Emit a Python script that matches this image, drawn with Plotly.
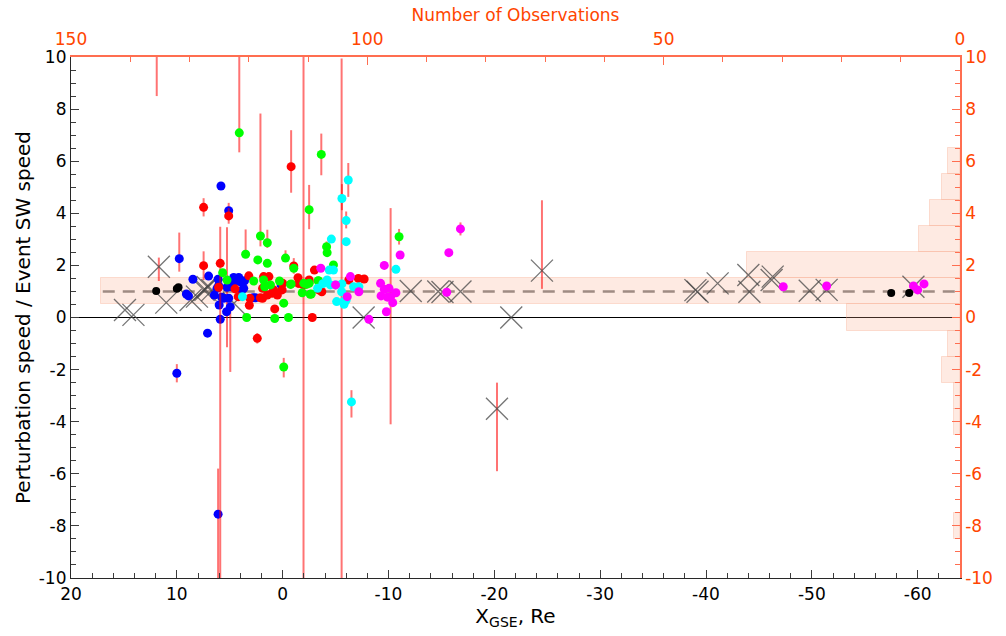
import plotly.graph_objects as go

# ---------------- data ----------------
# blue
blue_x = [5.83, 5.1, 9.77, 8.48, 9.1, 8.9, 7.0, 6.1, 6.46, 6.2, 5.77, 6.0, 5.9, 7.1, 5.26, 5.1, 4.95, 5.3,
          4.63, 4.15, 4.56, 4.0, 3.6, 3.68, 2.8, 2.57, 0.14, 10.0, 5.58, 6.05, 4.8, 3.9, 6.1]
blue_y = [5.05, 4.1, 2.26, 1.47, 0.9, 0.83, 1.59, 1.47, 0.86, 1.12, 0.78, 0.48, -0.07, -0.6, 1.16, 0.74, 0.41, 0.22,
          1.54, 1.54, 1.37, 1.37, 1.41, 1.12, 0.76, 0.76, 1.25, -2.14, 0.74, 1.22, 1.18, 1.03, -7.55]
blue_ep = [0, 0.3, 1.0, 0, 0, 0, 0, 0, 0, 0, 0, 0, 0, 0, 2.3, 0, 0, 0,
           0, 0, 0, 0, 0, 0, 0, 0, 0, 0.35, 0, 0, 0, 0, 1.75]
blue_em = [0, 0.3, 0.5, 0, 0, 0, 0, 0, 0, 0, 0, 0, 0, 0, 2.3, 0, 2.5, 0,
           0, 0, 0, 0, 0, 0, 0, 0, 0, 0.35, 0, 0, 0, 0, 3.0]

# red
red_x = [-0.8, 7.47, 5.1, 7.47, 5.9, 6.05, 3.2, 1.8, 3.1, 3.15, 2.4, 1.9, 1.9, 1.45, 0.75, 0.5, 0.85, -1.05,
         -1.45, -1.55, -2.5, -2.8, -3.0, -3.4, -3.7, -7.15, -6.25, -7.7, 1.3, 0.0, 0.05, 1.0, -1.5, -2.5,
         2.1, -1.97, 11.9, 4.5, 4.2]
red_y = [5.79, 4.23, 3.9, 1.99, 2.08, 1.16, 1.6, 1.57, 0.74, 0.47, -0.8, 0.74, 1.12, 0.86, 0.33, 0.86, 1.06, 1.98,
         1.53, 1.31, 1.44, 0.0, 1.82, 1.06, 0.99, 1.5, 1.44, 1.48, 1.57, 1.31, 1.06, 0.93, 1.31, 1.37,
         0.76, 1.25, 10.6, 1.1, 0.8]
red_ep = [1.4, 0.35, 0.3, 0.55, 1.4, 0, 0, 0, 0, 0, 0.2, 0, 0, 0, 0, 0, 0, 0.3,
          0, 0, 0, 0, 0, 0, 0, 0, 0, 0, 0, 0, 0, 0, 0, 0,
          0, 12.0, 0, 0, 0]
red_em = [1.0, 0.35, 0.3, 0.55, 13.0, 0, 0, 0, 0, 0, 0.2, 0, 0, 0, 0, 0, 0, 0.3,
          0, 0, 0, 0, 0, 0, 0, 0, 0, 0, 0, 0, 0, 0, 0, 0,
          0, 12.0, 2.1, 0, 0]

# green
green_x = [4.1, -3.65, -2.5, 2.1, 1.45, 3.5, 2.35, 1.45, -0.27, -1.05, 5.67, 5.26, 2.74, 1.8, 1.15, 0.3, -0.74,
           -1.85, -2.5, -3.4, -4.2, -4.15, -4.8, -2.6, -0.1, 3.4, 0.75, -0.55, -0.1, -11.0, -0.8, -2.0, -2.25,
           -2.7, -3.35, 1.7]
green_y = [7.09, 6.26, 4.14, 3.13, 2.87, 2.43, 2.21, 2.08, 2.28, 1.89, 1.72, 1.44, 1.40, 1.44, 1.25, 1.40, 1.27,
           0.95, 1.31, 1.40, 2.49, 2.72, 2.02, 0.89, 0.55, 0.0, -0.04, 0.0, -1.9, 3.1, 1.29, 1.31, 1.27,
           0.9, 1.41, 1.18]
green_ep = [3.5, 0.8, 0.95, 4.7, 0.5, 0.95, 0, 0, 0.3, 0, 0, 0, 0, 0, 0, 0, 0,
            0, 0, 0, 0, 0.2, 0, 0, 0, 0, 0, 0, 0.35, 0.3, 0, 0, 0,
            0, 0, 0]
green_em = [0.75, 0.8, 0.75, 0.4, 0.2, 0.1, 0, 0, 0.1, 0, 0, 0, 0, 0, 0, 0, 0,
            0, 0, 0, 0, 0.2, 0, 0, 0, 0, 0, 0, 0.4, 0.3, 0, 0, 0,
            0, 0, 0]

# cyan
cyan_x = [-6.2, -5.6, -6.0, -6.0, -10.7, -6.7, -7.2, -5.6, -5.75, -4.6, -4.4, -4.8, -4.2, -4.5, -5.0, -5.57,
          -5.1, -5.8, -6.0, -3.3, -6.5, 3.8, -3.8]
cyan_y = [5.28, 4.57, 3.72, 2.91, 1.85, 1.18, 1.18, 1.29, 0.61, 3.01, 1.82, 1.82, 1.44, 1.25, 1.25, 0.99,
          0.61, 0.51, 0.67, 1.12, -3.24, 0.8, 1.3]
cyan_ep = [0.65, 0.55, 0.35, 0.15, 0, 0, 0, 0, 0, 0.1, 0, 0, 0, 0, 0, 8.95,
           0, 0, 0, 0, 0.45, 0, 0]
cyan_em = [0.65, 0.45, 0.3, 0.15, 0, 0, 0, 0, 0, 0.1, 0, 0, 0, 0, 0, 11.0,
           0, 0, 0, 0, 0.6, 0, 0]

# magenta
mag_x = [-47.3, -51.4, -59.6, -60.0, -60.6, -16.8, -15.7, -15.5, -11.1, -9.6, -8.15, -9.25, -9.6, -9.3, -9.9,
         -10.2, -10.4, -9.8, -10.05, -10.7, -6.1, -6.4, -7.2, -3.6, -5.0]
mag_y = [1.18, 1.21, 1.21, 1.06, 1.29, 3.4, 2.49, 0.97, 2.4, 2.0, -0.07, 1.31, 1.08, 0.83, 0.78,
         0.8, 0.57, 0.22, 1.12, 0.95, 0.8, 1.57, 0.99, 1.89, 1.25]
mag_ep = [0, 0, 0, 0, 0, 0.25, 0.1, 0, 0, 0, 0, 0, 0, 0, 0,
          3.4, 0, 0, 0, 0, 0, 0, 0, 0, 0]
mag_em = [0, 0, 0, 0, 0, 0.25, 0.1, 0, 0, 0, 0, 0, 0, 0, 0,
          4.9, 0, 0, 0, 0, 0, 0, 0, 0, 0]

# black
black_x = [11.95, 9.84, 10.0, -57.5, -59.2]
black_y = [1.02, 1.16, 1.1, 0.94, 0.94]

# cross markers
cross_x = [14.9, 14.1, 11.7, 11.0, 8.7, 8.1, 7.3, 7.47, 7.1, 6.65, 4.6, -7.65, -12.1, -14.7, -15.1, -16.8,
           -20.25, -21.6, -24.5, -39.2, -39.0, -41.1, -44.0, -44.1, -46.3, -46.2, -49.8, -51.4, -59.6]
cross_y = [0.29, 0.1, 1.95, 0.57, 0.67, 0.8, 1.06, 1.06, 1.17, 1.05, 0.55, 0.0, 1.02, 1.0, 0.98, 1.0,
           -3.5, 0.0, 1.8, 0.99, 1.05, 1.31, 1.63, 0.99, 1.57, 1.44, 1.03, 1.06, 1.18]
cross_ep = [0, 0, 0.35, 0, 0, 0, 0, 0, 0, 0, 0, 0, 0, 0, 0, 0,
            1.0, 0, 2.7, 0, 0, 0, 0, 0, 0, 0, 0, 0, 0]
cross_em = [0, 0, 0.55, 0, 0, 0, 0, 0, 0, 0, 0, 0, 0, 0, 0, 0,
            2.4, 0, 0.7, 0, 0, 0, 0, 0, 0, 0, 0, 0, 0]

# histogram of ratio (number of observations per unit bin)
hist_centers = [6, 5, 4, 3, 2, 1, 0, -1, -2, -3, -4, -8]
hist_counts = [2, 3, 5, 7, 36, 145, 19, 2, 3, 1, 1, 1]

# tick labels
x_ticks = [20, 10, 0, -10, -20, -30, -40, -50, -60]
x_ticktext = ["20", "10", "0", "-10", "-20", "-30", "-40", "-50", "-60"]
y_ticks = [-10, -8, -6, -4, -2, 0, 2, 4, 6, 8, 10]
y_ticktext = ["-10", "-8", "-6", "-4", "-2", "0", "2", "4", "6", "8", "10"]
n_ticks = [150, 100, 50, 0]

# ---------------- figure ----------------
ORANGE = "rgb(255,69,0)"
ORANGE_LINE = "rgb(255,110,80)"
ERR = "rgba(255,0,0,0.55)"
FONT = "DejaVu Sans, Liberation Sans, sans-serif"

fig = go.Figure()

fig.add_trace(go.Bar(
    x=hist_counts, y=hist_centers, orientation="h", width=1.0,
    xaxis="x", yaxis="y",
    marker=dict(color="rgba(250,170,140,0.25)", line=dict(color="rgba(250,170,140,0.35)", width=1)),
    showlegend=False, hoverinfo="skip"))


def dots(x, y, color, ep=None, em=None, size=9):
    kw = {}
    if ep is not None:
        kw["error_y"] = dict(type="data", symmetric=False, array=ep, arrayminus=em,
                             color=ERR, thickness=2, width=0)
    return go.Scatter(x=x, y=y, mode="markers", xaxis="x2", yaxis="y",
                      marker=dict(color=color, size=size, line=dict(width=0)),
                      showlegend=False, **kw)


fig.add_trace(go.Scatter(
    x=cross_x, y=cross_y, mode="markers", xaxis="x2", yaxis="y",
    marker=dict(symbol="x-thin-open", size=22, color="rgba(70,70,70,0.75)",
                line=dict(width=1.3, color="rgba(70,70,70,0.75)")),
    error_y=dict(type="data", symmetric=False, array=cross_ep, arrayminus=cross_em,
                 color=ERR, thickness=2, width=0),
    showlegend=False))
fig.add_trace(dots(blue_x, blue_y, "rgb(0,0,255)", blue_ep, blue_em))
fig.add_trace(dots(red_x, red_y, "rgb(255,0,0)", red_ep, red_em))
fig.add_trace(dots(green_x, green_y, "rgb(0,255,0)", green_ep, green_em))
fig.add_trace(dots(cyan_x, cyan_y, "rgb(0,255,255)", cyan_ep, cyan_em))
fig.add_trace(dots(mag_x, mag_y, "rgb(255,0,255)", mag_ep, mag_em))
fig.add_trace(dots(black_x, black_y, "black", size=8))

# dummy trace to activate the right axis
fig.add_trace(go.Scatter(x=[0], y=[0], xaxis="x2", yaxis="y2", mode="markers",
                         marker=dict(opacity=0), showlegend=False, hoverinfo="skip"))

fig.add_shape(type="line", xref="paper", yref="y", x0=0, x1=1, y0=0, y1=0,
              line=dict(color="black", width=1.2), layer="below")
fig.add_shape(type="line", xref="x2", yref="y", x0=17, x1=-64, y0=1, y1=1,
              line=dict(color="rgb(128,128,128)", width=2.5, dash="12px,8px"), layer="below")

common = dict(ticks="inside", showgrid=False, zeroline=False, showline=True,
              tickfont=dict(family=FONT, size=17))

fig.update_layout(
    width=1006, height=636,
    margin=dict(l=71, r=46, t=57, b=58),
    paper_bgcolor="white", plot_bgcolor="white",
    font=dict(family=FONT, size=17, color="black"),
    xaxis=dict(range=[150, 0], side="top", anchor="y", tickvals=n_ticks,
               ticklen=8, tickcolor=ORANGE_LINE, linecolor=ORANGE_LINE, linewidth=1.5,
               ticklabelstandoff=3,
               tickfont=dict(family=FONT, size=17, color=ORANGE),
               minor=dict(dtick=10, ticklen=5, tickcolor=ORANGE_LINE, ticks="inside"),
               title=dict(text="Number of Observations", font=dict(family=FONT, size=17, color=ORANGE), standoff=4),
               ticks="inside", showgrid=False, zeroline=False, showline=True),
    xaxis2=dict(range=[20, -64], overlaying="x", side="bottom", anchor="y",
                tickvals=x_ticks, ticktext=x_ticktext, ticklen=8, tickcolor="rgb(60,60,60)",
                linecolor="rgb(40,40,40)", linewidth=1.2,
                minor=dict(dtick=2, tick0=0, ticklen=5, tickcolor="rgb(60,60,60)", ticks="inside"),
                title=dict(text="X<sub>GSE</sub>, Re", standoff=6), **common),
    yaxis=dict(range=[-10, 10], side="left", tickvals=y_ticks, ticktext=y_ticktext,
               ticklen=8, tickcolor="rgb(60,60,60)", linecolor="rgb(40,40,40)", linewidth=1.2,
               minor=dict(dtick=0.5, tick0=0, ticklen=5, tickcolor="rgb(60,60,60)", ticks="inside"),
               title=dict(text="Perturbation speed / Event SW speed", standoff=2), **common),
    yaxis2=dict(range=[-10, 10], overlaying="y", side="right", anchor="x2",
                tickvals=y_ticks, ticktext=y_ticktext, ticklen=8, tickcolor=ORANGE_LINE,
                linecolor=ORANGE_LINE, linewidth=1.5,
                tickfont=dict(family=FONT, size=17, color=ORANGE),
                minor=dict(dtick=0.5, tick0=0, ticklen=5, tickcolor=ORANGE_LINE, ticks="inside"),
                ticks="inside", showgrid=False, zeroline=False, showline=True),
    bargap=0,
)

fig.write_html("out.html")
